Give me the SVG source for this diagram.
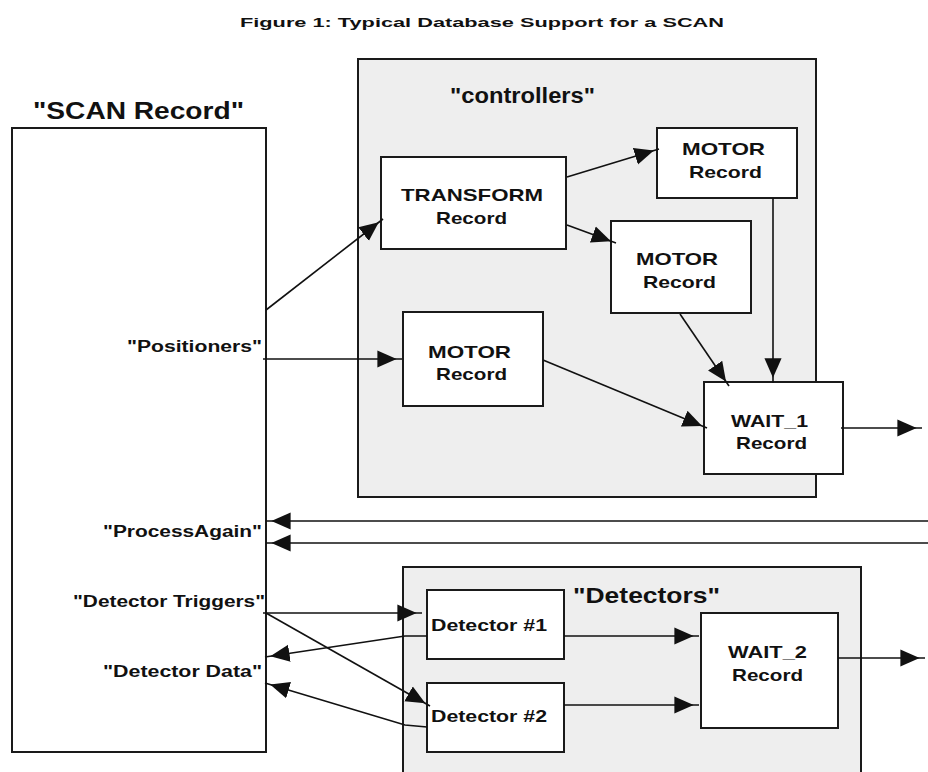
<svg xmlns="http://www.w3.org/2000/svg" width="928" height="772" viewBox="0 0 928 772">
<style>
text { font-family: "Liberation Sans", Arial, sans-serif; font-weight: bold; fill: #111; }
.box { fill: #fff; stroke: #1a1a1a; stroke-width: 2; }
.grp { fill: #eeeeee; stroke: #1a1a1a; stroke-width: 2; }
.n { font-size: 17px; }
.lbl { font-size: 16px; }
.big { font-size: 22px; }
.conn { fill: none; stroke: #111; stroke-width: 1.6; marker-end: url(#ah); }
</style>
<defs>
<marker id="ah" markerUnits="userSpaceOnUse" markerWidth="30" markerHeight="20" viewBox="0 -9 28 18" refX="23" refY="0" orient="auto">
<path d="M0,-8 L18,0 L0,8 z" fill="#111"/>
</marker>
</defs>
<rect width="928" height="772" fill="#fff"/>
<text x="240" y="27" style="font-size:13px" textLength="484" lengthAdjust="spacingAndGlyphs">Figure 1:  Typical Database Support for a SCAN</text>

<g id="scan-record">
<rect class="box" x="12" y="128" width="254" height="624"/>
<text x="33" y="119" style="font-size:24px" textLength="211" lengthAdjust="spacingAndGlyphs">"SCAN Record"</text>
<text class="lbl" x="127" y="352" textLength="135" lengthAdjust="spacingAndGlyphs">"Positioners"</text>
<text class="lbl" x="103" y="537" textLength="159" lengthAdjust="spacingAndGlyphs">"ProcessAgain"</text>
<text class="lbl" x="73" y="607" textLength="192" lengthAdjust="spacingAndGlyphs">"Detector Triggers"</text>
<text class="lbl" x="103" y="677" textLength="159" lengthAdjust="spacingAndGlyphs">"Detector Data"</text>
</g>

<g id="controllers">
<rect class="grp" x="358" y="59" width="458" height="438"/>
<text class="big" x="450" y="103" textLength="145" lengthAdjust="spacingAndGlyphs">"controllers"</text>
</g>

<g id="detectors">
<rect class="grp" x="403" y="567" width="458" height="230"/>
<text class="big" x="573" y="603" textLength="147" lengthAdjust="spacingAndGlyphs">"Detectors"</text>
</g>

<g id="transform">
<rect class="box" x="381" y="157" width="185" height="92"/>
<text class="n" x="401" y="201" textLength="142" lengthAdjust="spacingAndGlyphs">TRANSFORM</text>
<text class="n" x="436" y="224" textLength="71" lengthAdjust="spacingAndGlyphs">Record</text>
</g>

<g id="motor-top">
<rect class="box" x="657" y="128" width="140" height="70"/>
<text class="n" x="682" y="155" textLength="83" lengthAdjust="spacingAndGlyphs">MOTOR</text>
<text class="n" x="689" y="178" textLength="73" lengthAdjust="spacingAndGlyphs">Record</text>
</g>

<g id="motor-mid">
<rect class="box" x="611" y="221" width="140" height="92"/>
<text class="n" x="636" y="265" textLength="82" lengthAdjust="spacingAndGlyphs">MOTOR</text>
<text class="n" x="643" y="288" textLength="73" lengthAdjust="spacingAndGlyphs">Record</text>
</g>

<g id="motor-low">
<rect class="box" x="403" y="312" width="140" height="94"/>
<text class="n" x="428" y="358" textLength="83" lengthAdjust="spacingAndGlyphs">MOTOR</text>
<text class="n" x="436" y="380" textLength="71" lengthAdjust="spacingAndGlyphs">Record</text>
</g>

<g id="wait1">
<rect class="box" x="704" y="382" width="139" height="92"/>
<text class="n" x="731" y="427" textLength="77" lengthAdjust="spacingAndGlyphs">WAIT_1</text>
<text class="n" x="736" y="449" textLength="71" lengthAdjust="spacingAndGlyphs">Record</text>
</g>

<g id="detector1">
<rect class="box" x="427" y="590" width="137" height="69"/>
<text class="lbl" x="431" y="631" textLength="116" lengthAdjust="spacingAndGlyphs">Detector #1</text>
</g>

<g id="detector2">
<rect class="box" x="427" y="683" width="137" height="69"/>
<text class="lbl" x="431" y="722" textLength="116" lengthAdjust="spacingAndGlyphs">Detector #2</text>
</g>

<g id="wait2">
<rect class="box" x="701" y="613" width="137" height="115"/>
<text class="n" x="728" y="658" textLength="79" lengthAdjust="spacingAndGlyphs">WAIT_2</text>
<text class="n" x="732" y="681" textLength="71" lengthAdjust="spacingAndGlyphs">Record</text>
</g>

<g id="connectors">
<path class="conn" d="M266,310 L383,219"/>
<path class="conn" d="M567,177 L659,149"/>
<path class="conn" d="M567,225 L616,243"/>
<path class="conn" d="M263,359 L402,359"/>
<path class="conn" d="M543,360 L707,428"/>
<path class="conn" d="M680,314 L729,386"/>
<path class="conn" d="M773,198 L773,383"/>
<path class="conn" d="M841,428 L922,428"/>
<path class="conn" d="M928,521 L266,521"/>
<path class="conn" d="M928,543 L266,543"/>
<path class="conn" d="M263,613 L422,613"/>
<path class="conn" d="M266,613 L430,706"/>
<path class="conn" d="M427,636 L405,636 L265,657"/>
<path class="conn" d="M427,727 L405,725 L265,683"/>
<path class="conn" d="M564,636 L699,636"/>
<path class="conn" d="M564,705 L699,705"/>
<path class="conn" d="M838,658 L925,658"/>
</g>
</svg>
